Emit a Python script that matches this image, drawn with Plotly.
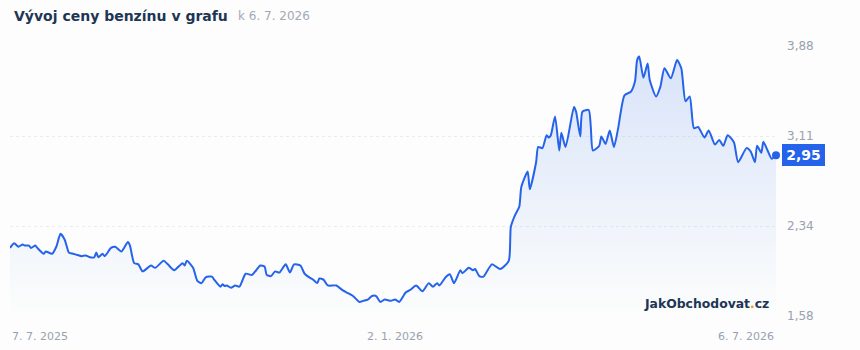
import plotly.graph_objects as go

dates = [
    "2025-07-07","2025-07-09","2025-07-11","2025-07-13","2025-07-14","2025-07-16","2025-07-17","2025-07-19","2025-07-20","2025-07-23",
    "2025-07-24","2025-07-27","2025-07-29","2025-07-31","2025-08-02","2025-08-04","2025-08-06","2025-08-08","2025-08-10","2025-08-12",
    "2025-08-14","2025-08-16","2025-08-17","2025-08-18","2025-08-20","2025-08-21","2025-08-24","2025-08-26","2025-08-29","2025-09-01",
    "2025-09-02","2025-09-04","2025-09-06","2025-09-08","2025-09-12","2025-09-14","2025-09-18","2025-09-20","2025-09-23","2025-09-27",
    "2025-09-28","2025-09-29","2025-10-02","2025-10-04","2025-10-06","2025-10-08","2025-10-11","2025-10-12","2025-10-15","2025-10-16",
    "2025-10-17","2025-10-18","2025-10-20","2025-10-22","2025-10-24","2025-10-27","2025-10-30","2025-11-01","2025-11-03","2025-11-05",
    "2025-11-06","2025-11-08","2025-11-10","2025-11-12","2025-11-15","2025-11-17","2025-11-19","2025-11-22","2025-11-24","2025-11-27",
    "2025-11-28","2025-11-30","2025-12-01","2025-12-03","2025-12-05","2025-12-09","2025-12-12","2025-12-14","2025-12-17","2025-12-20",
    "2025-12-22","2025-12-24","2025-12-26","2025-12-28","2025-12-30","2026-01-01","2026-01-04","2026-01-06","2026-01-08","2026-01-11",
    "2026-01-13","2026-01-16","2026-01-19","2026-01-22","2026-01-24","2026-01-26","2026-01-27","2026-01-30","2026-02-01","2026-02-03",
    "2026-02-06","2026-02-07","2026-02-10","2026-02-12","2026-02-13","2026-02-15","2026-02-17","2026-02-21","2026-02-25","2026-03-01",
    "2026-03-02","2026-03-04","2026-03-06","2026-03-07","2026-03-10","2026-03-11","2026-03-14","2026-03-15","2026-03-17","2026-03-19",
    "2026-03-20","2026-03-21","2026-03-23","2026-03-25","2026-03-26","2026-03-28","2026-04-01","2026-04-02","2026-04-04","2026-04-05",
    "2026-04-08","2026-04-09","2026-04-10","2026-04-13","2026-04-14","2026-04-16","2026-04-18","2026-04-20","2026-04-22","2026-04-25",
    "2026-04-28","2026-04-30","2026-05-01","2026-05-02","2026-05-04","2026-05-06","2026-05-07","2026-05-10","2026-05-12","2026-05-14",
    "2026-05-17","2026-05-20","2026-05-22","2026-05-24","2026-05-26","2026-05-28","2026-05-30","2026-06-02","2026-06-04","2026-06-07",
    "2026-06-09","2026-06-11","2026-06-13","2026-06-16","2026-06-18","2026-06-22","2026-06-24","2026-06-26","2026-06-27","2026-06-29",
    "2026-06-30","2026-07-02","2026-07-04","2026-07-06",
]
prices = [
    2.16,2.20,2.17,2.19,2.18,2.18,2.16,2.18,2.16,2.11,
    2.13,2.11,2.17,2.28,2.23,2.12,2.11,2.10,2.09,2.095,
    2.08,2.08,2.12,2.08,2.11,2.09,2.16,2.17,2.13,2.21,
    2.18,2.03,2.02,1.96,2.01,1.99,2.05,2.02,1.97,2.03,
    2.01,2.05,1.99,1.88,1.86,1.91,1.915,1.89,1.83,1.85,
    1.835,1.84,1.82,1.84,1.83,1.94,1.93,1.97,2.01,2.00,
    1.93,1.92,1.96,1.95,2.02,1.95,2.02,2.01,1.94,1.90,
    1.89,1.86,1.90,1.89,1.84,1.84,1.80,1.78,1.75,1.70,
    1.71,1.72,1.75,1.75,1.70,1.72,1.71,1.72,1.70,1.78,
    1.80,1.84,1.79,1.86,1.83,1.86,1.84,1.91,1.935,1.86,
    1.97,1.945,1.99,1.97,1.98,1.92,1.915,2.02,1.98,2.05,
    2.34,2.44,2.51,2.68,2.81,2.66,2.89,3.02,3.01,3.12,
    3.10,3.12,3.28,2.99,3.14,3.02,3.36,3.32,3.11,3.32,
    3.335,3.19,2.99,3.03,3.11,3.045,3.16,3.02,3.18,3.46,
    3.49,3.58,3.76,3.79,3.61,3.73,3.59,3.45,3.53,3.69,
    3.605,3.76,3.69,3.41,3.45,3.18,3.19,3.10,3.16,3.04,
    3.08,3.03,3.12,3.06,2.89,3.01,2.98,2.89,3.03,2.97,
    3.065,2.99,2.92,2.95,
]

y_ticks = [1.58, 2.3467, 3.1133, 3.88]
y_tick_labels = ["1,58", "2,34", "3,11", "3,88"]
x_labels = ["7. 7. 2025", "2. 1. 2026", "6. 7. 2026"]
mid_label_date = "2026-01-06"
title_text = "Vývoj ceny benzínu v grafu"
subtitle_text = "k 6. 7. 2026"
last_label = "2,95"

BLUE = "#2563eb"
BG = "#fcfdfc"
FONT = "DejaVu Sans"

fig = go.Figure()
fig.add_trace(go.Scatter(
    x=dates, y=prices, mode="lines",
    line=dict(color=BLUE, width=2, shape="spline", smoothing=0.6),
    fill="tozeroy",
    fillgradient=dict(type="vertical", start=1.58, stop=3.88,
                      colorscale=[[0, "rgba(37,99,235,0.0)"], [1, "rgba(37,99,235,0.17)"]]),
    hoverinfo="skip", showlegend=False,
))
fig.add_trace(go.Scatter(
    x=[dates[-1]], y=[prices[-1]], mode="markers",
    marker=dict(color=BLUE, size=8), hoverinfo="skip", showlegend=False, cliponaxis=False,
))

fig.update_layout(
    width=860, height=350,
    margin=dict(l=10, r=84, t=46, b=34),
    paper_bgcolor=BG, plot_bgcolor=BG,
    font=dict(family=FONT, color="#9aa1b0", size=12),
    xaxis=dict(range=[dates[0], dates[-1]], showgrid=False, showticklabels=False,
               zeroline=False, showline=False, fixedrange=True),
    yaxis=dict(range=[1.58, 3.88], side="right", tickvals=y_ticks, ticktext=y_tick_labels,
               showgrid=True, gridcolor="#e9ecf3", griddash="dot", gridwidth=1,
               zeroline=False, showline=False, ticks="", ticklabelstandoff=10,
               tickfont=dict(family=FONT, size=12, color="#9aa1b0"), fixedrange=True),
)

annotations = [
    dict(xref="paper", yref="paper", x=0, y=0, xanchor="left", yanchor="top", yshift=-12,
         text=x_labels[0], showarrow=False, font=dict(family=FONT, size=11, color="#9aa1b0")),
    dict(xref="x", yref="paper", x=mid_label_date, y=0, xanchor="center", yanchor="top", yshift=-12,
         text=x_labels[1], showarrow=False, font=dict(family=FONT, size=11, color="#9aa1b0")),
    dict(xref="paper", yref="paper", x=1, y=0, xanchor="right", yanchor="top", yshift=-12,
         text=x_labels[2], showarrow=False, font=dict(family=FONT, size=11, color="#9aa1b0")),
    dict(xref="paper", yref="paper", x=0, y=1, xanchor="left", yanchor="middle",
         xshift=2, yshift=30,
         text="<b>" + title_text + "</b>", showarrow=False,
         font=dict(family=FONT, size=14, color="#1e3556")),
    dict(xref="paper", yref="paper", x=0, y=1, xanchor="left", yanchor="middle",
         xshift=226, yshift=30,
         text=subtitle_text, showarrow=False,
         font=dict(family=FONT, size=12, color="#a3a9b7")),
    dict(xref="paper", yref="paper", x=1, y=0, xanchor="right", yanchor="middle",
         xshift=-5, yshift=13,
         text="<b>JakObchodovat<span style='color:#f29a1a'>.</span>cz</b>", showarrow=False,
         font=dict(family=FONT, size=12.4, color="#1e3556")),
    dict(xref="paper", yref="y", x=1, y=prices[-1], xanchor="left", yanchor="middle",
         xshift=6, text="<b>" + last_label + "</b>", showarrow=False,
         width=43, height=22, borderpad=0, borderwidth=0, align="center",
         bgcolor=BLUE, font=dict(family=FONT, size=14, color="white")),
]
fig.update_layout(annotations=annotations)

fig.write_html("out.html")
